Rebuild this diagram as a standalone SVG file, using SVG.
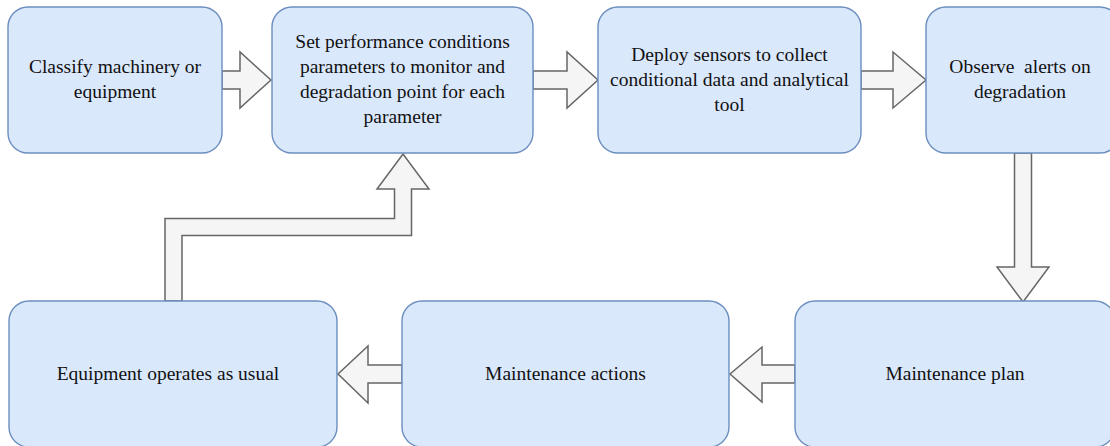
<svg xmlns="http://www.w3.org/2000/svg" width="1110" height="446" viewBox="0 0 1110 446">
  <style>
    .box { fill: #dae8fc; stroke: #6c8ebf; stroke-width: 1.4; }
    .arrow { fill: #f5f5f5; stroke: #666666; stroke-width: 1.5; stroke-linejoin: miter; }
    .label { font-family: 'Liberation Serif', 'Times New Roman', Times, 'DejaVu Serif', serif; font-size: 19.5px; fill: #111111; text-anchor: middle; white-space: pre; }
  </style>
  <rect width="1110" height="446" fill="#ffffff"/>

  <!-- block arrows between the steps -->
  <g id="connectors">
    <polygon class="arrow" points="222,71 240,71 240,52 271,80 240,108 240,89 222,89"/>
    <polygon class="arrow" points="533,71 567,71 567,52 598,80 567,108 567,89 533,89"/>
    <polygon class="arrow" points="861,71 893,71 893,52 926,80 893,108 893,89 861,89"/>
    <polygon class="arrow" points="1014.5,153 1014.5,267 997,267 1023,302 1049,267 1031.5,267 1031.5,153"/>
    <polygon class="arrow" points="795,365 762,365 762,347 730,374 762,402 762,383 795,383"/>
    <polygon class="arrow" points="402,365 368,365 368,346 338,374 368,403 368,383 402,383"/>
    <polygon class="arrow" points="165,301 165,218.5 394.5,218.5 394.5,189 377,189 403,154 429,189 411.5,189 411.5,235.5 182,235.5 182,301"/>
  </g>

  <g id="classify">
    <rect class="box" x="8" y="7" width="214" height="146" rx="20" ry="20"/>
    <text class="label" font-family="Liberation Serif, serif" x="115" y="73">Classify machinery or</text>
    <text class="label" font-family="Liberation Serif, serif" x="115" y="98">equipment</text>
  </g>

  <g id="set-conditions">
    <rect class="box" x="272" y="7" width="261" height="146" rx="20" ry="20"/>
    <text class="label" font-family="Liberation Serif, serif" x="402.5" y="48">Set performance conditions</text>
    <text class="label" font-family="Liberation Serif, serif" x="402.5" y="73">parameters to monitor and</text>
    <text class="label" font-family="Liberation Serif, serif" x="402.5" y="98">degradation point for each</text>
    <text class="label" font-family="Liberation Serif, serif" x="402.5" y="123">parameter</text>
  </g>

  <g id="deploy-sensors">
    <rect class="box" x="598" y="7" width="263" height="146" rx="20" ry="20"/>
    <text class="label" font-family="Liberation Serif, serif" x="729.5" y="61">Deploy sensors to collect</text>
    <text class="label" font-family="Liberation Serif, serif" x="729.5" y="86">conditional data and analytical</text>
    <text class="label" font-family="Liberation Serif, serif" x="729.5" y="111">tool</text>
  </g>

  <g id="observe-alerts">
    <rect class="box" x="926" y="7" width="194" height="146" rx="20" ry="20"/>
    <text class="label" font-family="Liberation Serif, serif" x="1020" y="73">Observe  alerts on</text>
    <text class="label" font-family="Liberation Serif, serif" x="1020" y="98">degradation</text>
  </g>

  <g id="maintenance-plan">
    <rect class="box" x="795" y="301" width="320" height="146" rx="20" ry="20"/>
    <text class="label" font-family="Liberation Serif, serif" x="955" y="380">Maintenance plan</text>
  </g>

  <g id="maintenance-actions">
    <rect class="box" x="402" y="301" width="327" height="146" rx="20" ry="20"/>
    <text class="label" font-family="Liberation Serif, serif" x="565.5" y="380">Maintenance actions</text>
  </g>

  <g id="operates-as-usual">
    <rect class="box" x="9" y="301" width="328" height="146" rx="20" ry="20"/>
    <text class="label" font-family="Liberation Serif, serif" x="168" y="380">Equipment operates as usual</text>
  </g>
</svg>
